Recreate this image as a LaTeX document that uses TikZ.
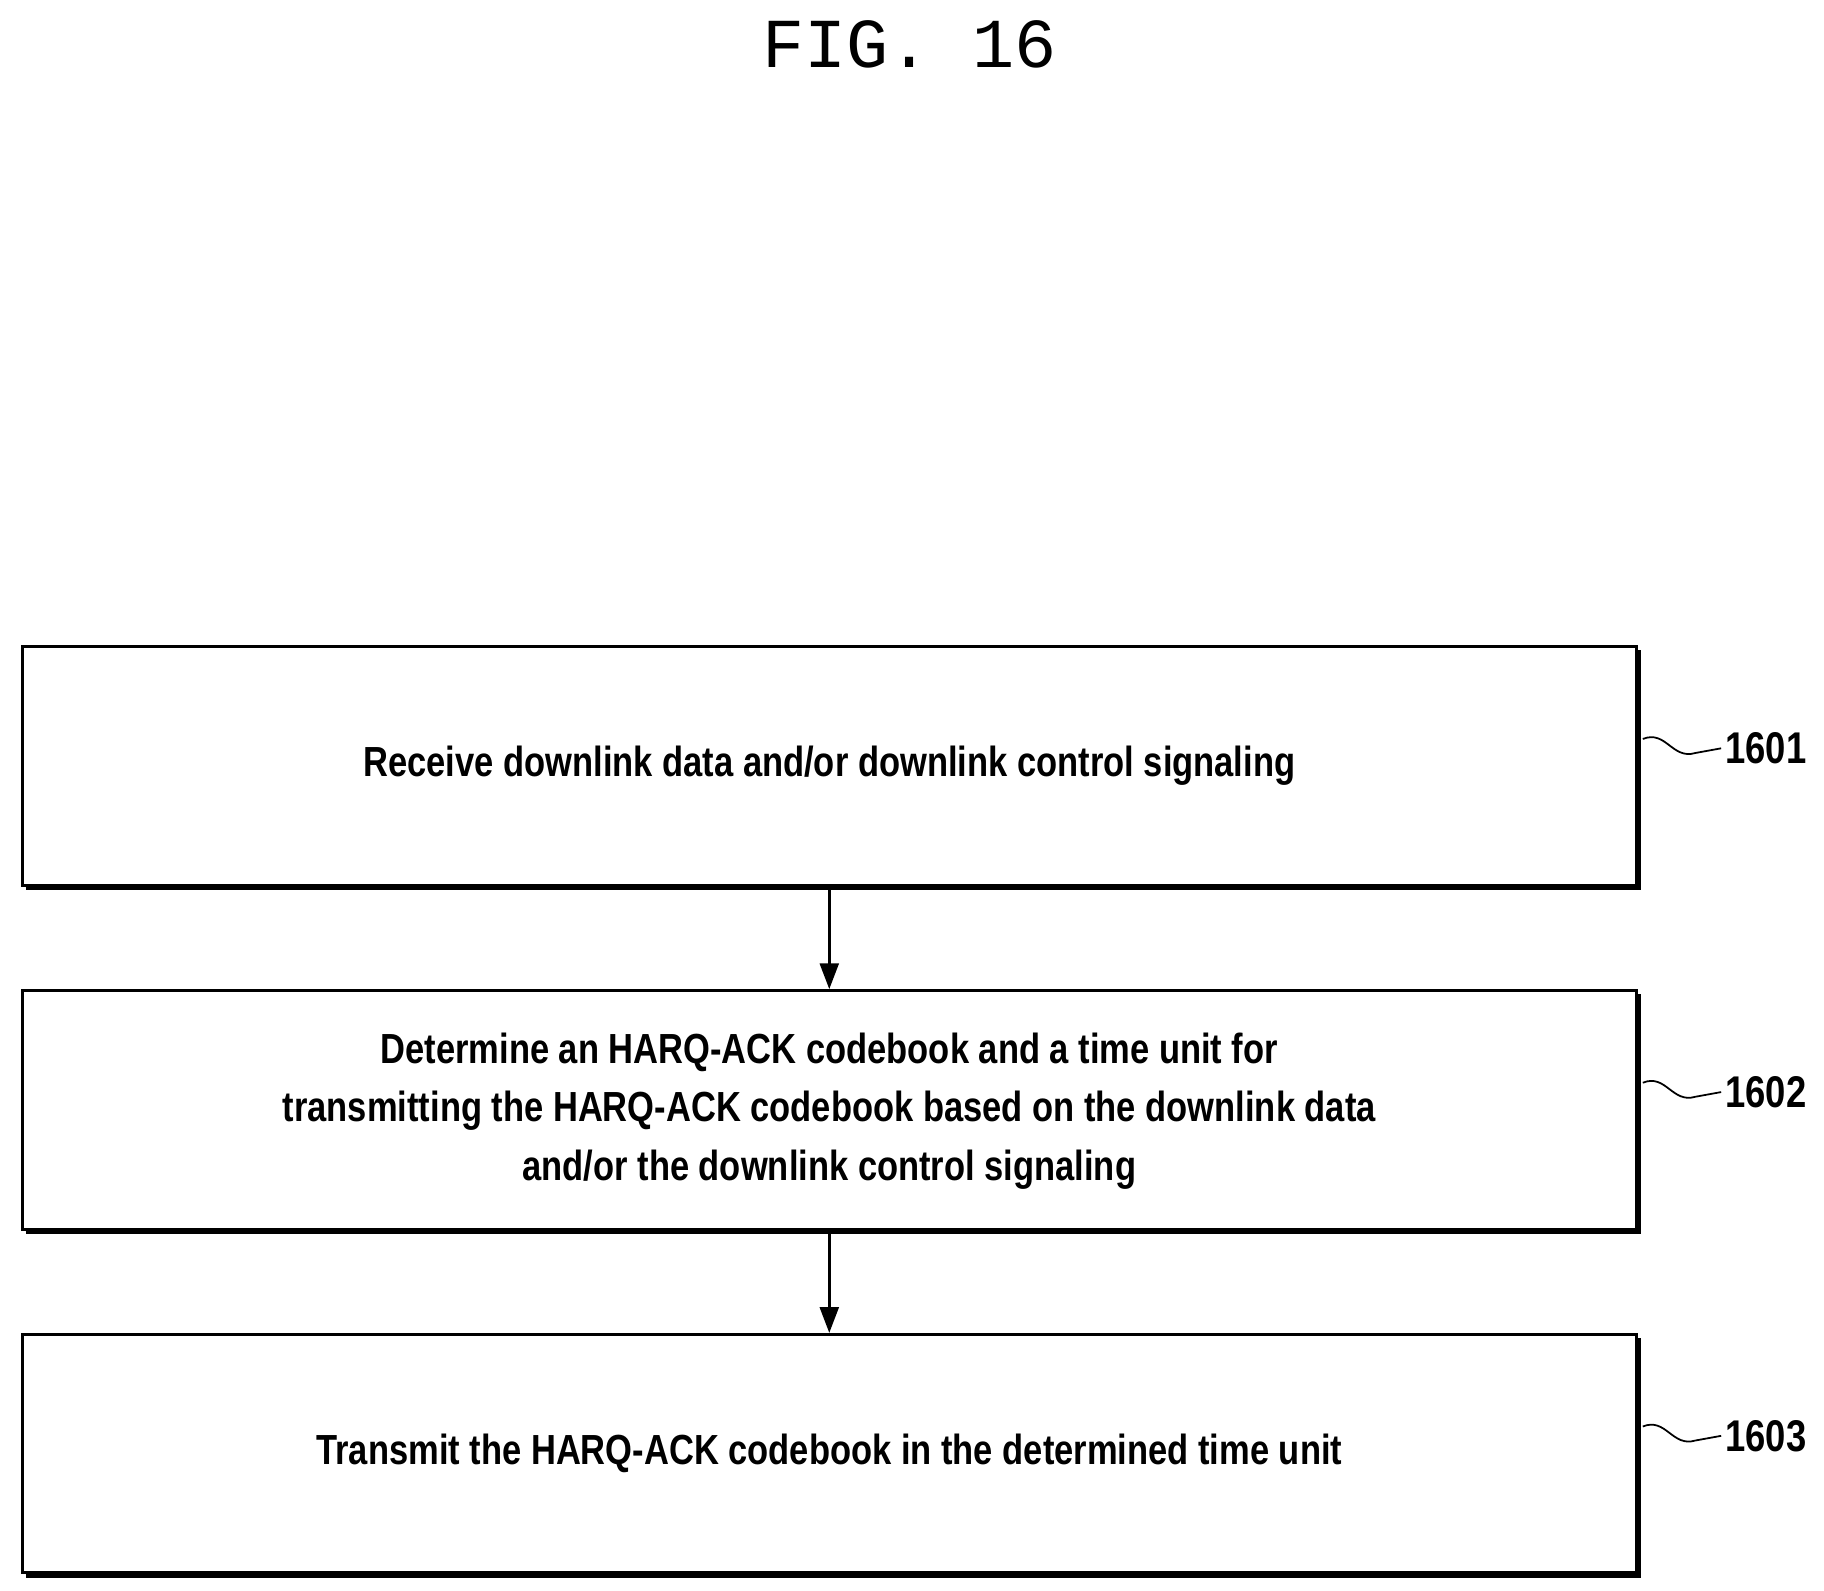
\documentclass[tikz,border=0pt]{standalone}
\usepackage{fontspec}
\setmainfont{Liberation Sans}
\newfontfamily\titlefont{Liberation Mono}
\usetikzlibrary{arrows.meta}
\begin{document}
\begin{tikzpicture}[x=1pt,y=-1pt,
  stepbox/.style={draw,line width=2.5pt,minimum width=1380pt,minimum height=204pt,anchor=north west,inner sep=0pt,
    font=\fontsize{36}{50}\selectfont\bfseries,align=center,
    append after command={}},
  shadowline/.style={line width=3pt},
  arr/.style={-{Triangle[length=22pt,width=16pt]},line width=2.5pt},
  lbl/.style={font=\fontsize{38}{40}\selectfont\bfseries,anchor=west}]
\useasboundingbox (0,0) rectangle (1560,1360);
\node[font=\titlefont\fontsize{60}{60}\selectfont] (t) at (778,38) {FIG. 16};
\foreach \y/\n in {552/1,846/2,1140/3}{
  \draw[shadowline] (22,\y+208) -- (1402,\y+208) -- (1402,\y+4);
}
\node[stepbox] (b1) at (18,552) {\scalebox{0.82}[1]{Receive downlink data and/or downlink control signaling}};
\node[stepbox] (b2) at (18,846) {\scalebox{0.82}[1]{\begin{tabular}{c}Determine an HARQ-ACK codebook and a time unit for\\transmitting the HARQ-ACK codebook based on the downlink data\\and/or the downlink control signaling\end{tabular}}};
\node[stepbox] (b3) at (18,1140) {\scalebox{0.82}[1]{Transmit the HARQ-ACK codebook in the determined time unit}};
\draw[arr] (b1.south) -- (b2.north);
\draw[arr] (b2.south) -- (b3.north);
\foreach \b/\y/\t in {b1/640/1601,b2/934/1602,b3/1228/1603}{
  \node[lbl] (l\t) at (1472,\y) {\scalebox{0.82}[1]{\t}};
  \draw[line width=1.5pt] (1405,\y-8) .. controls (1425,\y-16) and (1430,\y+10) .. (1450,\y+4) -- (l\t.west);
}
\end{tikzpicture}
\end{document}
